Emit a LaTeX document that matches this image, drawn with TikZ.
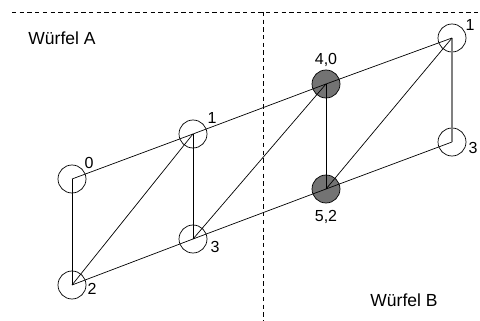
\documentclass[tikz,border=0pt]{standalone}
\usepackage{fontspec}
\setmainfont{Liberation Sans}
\begin{document}
\begin{tikzpicture}[x=1pt,y=-1pt,
  vtx/.style={circle,draw,minimum size=28pt,inner sep=0pt,line width=0.7pt},
  vfill/.style={vtx,fill=black!55},
  lbl/.style={inner sep=0pt,font=\fontsize{16}{18}\selectfont},
  title/.style={inner sep=0pt,font=\fontsize{17.5}{20}\selectfont},
  edge/.style={line width=0.7pt},
  sep/.style={line width=0.6pt,dash pattern=on 4.3pt off 3.4pt}]
\useasboundingbox (0,0) rectangle (480,321);
% separators
\coordinate (hl) at (12,12);
\coordinate (hr) at (480,12);
\coordinate (vt) at (263,12);
\coordinate (vb) at (263,321);
\draw[sep] (hl) -- (hr);
\draw[sep] (vt) -- (vb);
% vertices
\node[vtx] (a0) at (72,179) {};
\node[vtx] (a2) at (72,285) {};
\node[vtx] (a1) at (193,134) {};
\node[vtx] (a3) at (193,239) {};
\node[vfill] (m1) at (326,84) {};
\node[vfill] (m2) at (326,189) {};
\node[vtx] (b1) at (452,38) {};
\node[vtx] (b3) at (452,142) {};
% edges
\draw[edge] (a0.center) -- (a1.center) -- (m1.center) -- (b1.center);
\draw[edge] (a2.center) -- (a3.center) -- (m2.center) -- (b3.center);
\draw[edge] (a0.center) -- (a2.center);
\draw[edge] (a1.center) -- (a3.center);
\draw[edge] (m1.center) -- (m2.center);
\draw[line width=1.2pt,black!50] (b1.center) -- (b3.center);
\draw[edge] (a2.center) -- (a1.center);
\draw[edge] (a3.center) -- (m1.center);
\draw[edge] (m2.center) -- (b1.center);
% labels
\node[lbl] (l0) at (89,163) {0};
\node[lbl] (l2) at (92,289) {2};
\node[lbl] (l1) at (212,118) {1};
\node[lbl] (l3) at (215,247) {3};
\node[lbl] (l40) at (326,60) {4,0};
\node[lbl] (l52) at (326,217) {5,2};
\node[lbl] (lb1) at (470,25) {1};
\node[lbl] (lb3) at (473,148) {3};
\node[title] (wa) at (62,38) {Würfel A};
\node[title] (wb) at (404,300) {Würfel B};
\end{tikzpicture}
\end{document}
